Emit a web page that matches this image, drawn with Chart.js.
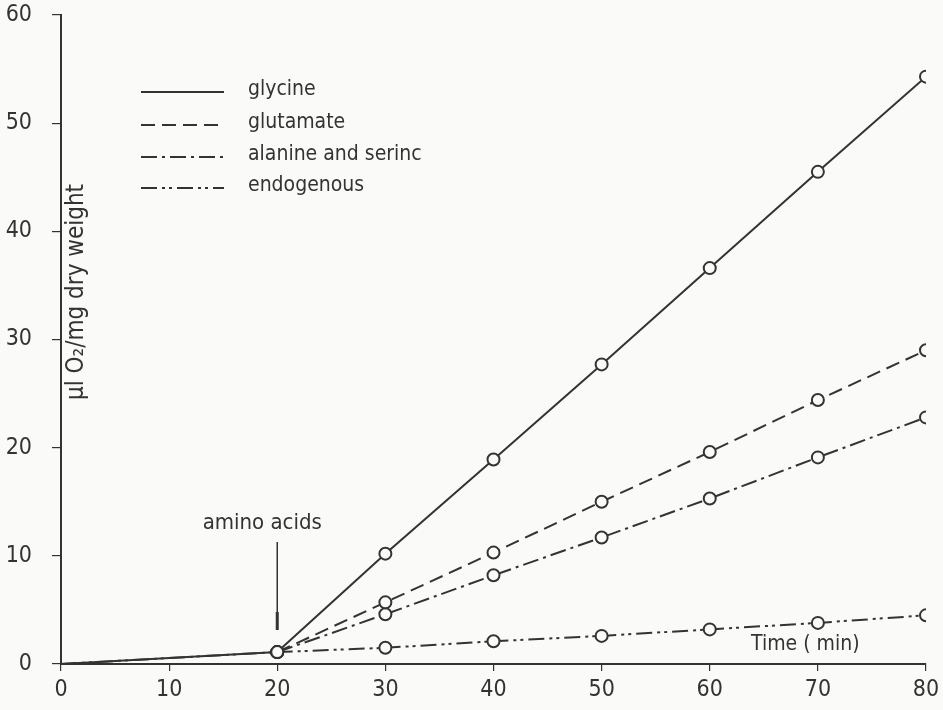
<!DOCTYPE html>
<html>
<head>
<meta charset="utf-8">
<script src="https://cdn.jsdelivr.net/npm/chart.js@4/dist/chart.umd.min.js"></script>
<style>
  html, body { margin: 0; padding: 0; background: #fafaf8; }
  #wrap { width: 943px; height: 710px; }
</style>
</head>
<body>
<div id="wrap"><canvas id="myChart" width="943" height="710"></canvas></div>
<script>
// minutes
var times = [0, 20, 30, 40, 50, 60, 70, 80]
// ul O2 / mg dry weight
var glycine = [0, 1.1, 10.2, 18.9, 27.7, 36.6, 45.5, 54.3]
var glutamate = [null, 1.1, 5.7, 10.3, 15.0, 19.6, 24.4, 29.0]
var alanine = [null, 1.1, 4.6, 8.2, 11.7, 15.3, 19.1, 22.8]
var endogenous = [0, 1.1, 1.5, 2.1, 2.6, 3.2, 3.8, 4.5]
var seriesNames = ['glycine', 'glutamate', 'alanine and serinc', 'endogenous']
var xTicks = [0, 10, 20, 30, 40, 50, 60, 70, 80]
var yTicks = [0, 10, 20, 30, 40, 50, 60]
var additionTime = 20

var ink = '#333333'
var font = '"DejaVu Sans Condensed", "DejaVu Sans", sans-serif'
var dashes = [[], [14, 7], [16, 5, 3, 5], [16, 5, 3, 4, 3, 5]]

function toPoints(values) {
    return times.map(function (t, i) {
        return { x: t, y: values[i] }
    })
}

function makeSet(label, values, dash) {
    return {
        label: label,
        data: toPoints(values),
        borderColor: ink,
        borderWidth: 2,
        borderDash: dash,
        backgroundColor: '#fafaf8',
        pointBorderColor: ink,
        pointBackgroundColor: '#fafaf8',
        pointBorderWidth: 2,
        pointRadius: function (ctx) {
            return ctx.raw && ctx.raw.x === 0 ? 0 : 6
        },
        fill: false,
        tension: 0,
        spanGaps: false
    }
}

// legend, annotation and axis titles drawn inside the plot
var extras = {
    id: 'extras',
    afterDraw: function (chart) {
        var ctx = chart.ctx
        var xs = chart.scales.x
        ctx.save()
        ctx.strokeStyle = ink
        ctx.fillStyle = ink
        ctx.lineWidth = 2
        ctx.textBaseline = 'middle'
        ctx.font = '21px ' + font

        var rows = [92, 125, 157, 188]
        for (var i = 0; i < seriesNames.length; i++) {
            ctx.setLineDash(dashes[i])
            ctx.beginPath()
            ctx.moveTo(141, rows[i])
            ctx.lineTo(224, rows[i])
            ctx.stroke()
            ctx.setLineDash([])
            ctx.fillText(seriesNames[i], 248, rows[i] - 2)
        }

        // amino acids arrow
        var ax = xs.getPixelForValue(additionTime)
        ctx.textAlign = 'center'
        ctx.font = '22px ' + font
        ctx.fillText('amino acids', ax - 15, 523)
        ctx.lineWidth = 1.5
        ctx.beginPath()
        ctx.moveTo(ax, 542)
        ctx.lineTo(ax, 630)
        ctx.stroke()
        ctx.lineWidth = 3
        ctx.beginPath()
        ctx.moveTo(ax, 612)
        ctx.lineTo(ax, 630)
        ctx.stroke()

        // x title
        ctx.font = '21px ' + font
        ctx.textAlign = 'left'
        ctx.fillText('Time ( min)', 751, 645)

        // y title
        ctx.translate(77, 292)
        ctx.rotate(-Math.PI / 2)
        ctx.textAlign = 'center'
        ctx.font = '24px ' + font
        ctx.fillText('\u00b5l O\u2082/mg dry weight', 0, 0)
        ctx.restore()
    }
}

var config = {
    type: 'line',
    data: {
        datasets: [
            makeSet(seriesNames[0], glycine, dashes[0]),
            makeSet(seriesNames[1], glutamate, dashes[1]),
            makeSet(seriesNames[2], alanine, dashes[2]),
            makeSet(seriesNames[3], endogenous, dashes[3])
        ]
    },
    options: {
        responsive: false,
        animation: false,
        layout: { padding: { top: 15, right: 17, left: 0, bottom: 0 } },
        plugins: {
            legend: { display: false },
            tooltip: { enabled: false }
        },
        scales: {
            x: {
                type: 'linear',
                min: 0,
                max: 80,
                afterBuildTicks: function (scale) {
                    scale.ticks = xTicks.map(function (v) { return { value: v } })
                },
                afterFit: function (scale) {
                    scale.height = 46
                    scale.paddingLeft = 0
                    scale.paddingRight = 0
                },
                grid: { drawOnChartArea: false, drawTicks: true, tickLength: 7, color: ink, lineWidth: 1.2 },
                border: { display: true, color: ink, width: 2 },
                ticks: { color: ink, padding: 5, maxRotation: 0, font: { family: font, size: 23 } }
            },
            y: {
                type: 'linear',
                min: 0,
                max: 60,
                afterBuildTicks: function (scale) {
                    scale.ticks = yTicks.map(function (v) { return { value: v } })
                },
                afterFit: function (scale) {
                    scale.width = 61
                    scale.paddingTop = 0
                    scale.paddingBottom = 0
                },
                grid: { drawOnChartArea: false, drawTicks: true, tickLength: 9, color: ink, lineWidth: 1.2 },
                border: { display: true, color: ink, width: 2 },
                ticks: { color: ink, padding: 20, font: { family: font, size: 23 } }
            }
        }
    },
    plugins: [extras]
}

var myChart = new Chart(document.getElementById('myChart'), config)
</script>
</body>
</html>
